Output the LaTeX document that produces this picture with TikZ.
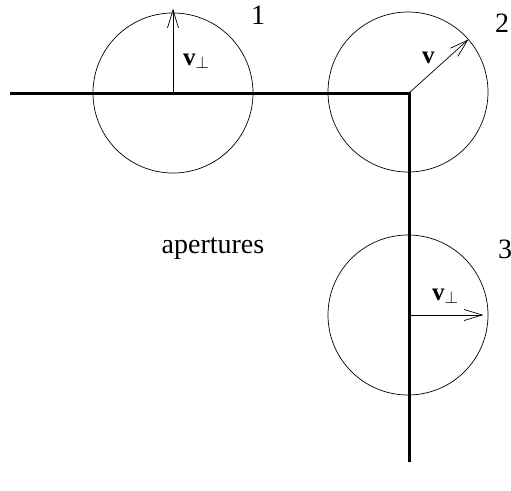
\documentclass[tikz,border=0pt]{standalone}
\usepackage{fontspec}
\setmainfont{Liberation Serif}
\usetikzlibrary{arrows.meta}
\begin{document}
\begin{tikzpicture}[x=1pt, y=-1pt,
		aperture/.style={draw, circle, line width=0.7pt, minimum size=160pt, inner sep=0pt},
		wall/.style={line width=3pt},
		vel/.style={line width=0.7pt, -{Straight Barb[length=18pt, width=11pt]}},
		lbl/.style={font=\fontsize{28}{32}\selectfont, inner sep=0pt, anchor=base},
		vlbl/.style={font=\fontsize{25}{30}\selectfont, inner sep=0pt, anchor=base west}]
	\useasboundingbox (0,0) rectangle (511,490);
	\coordinate (wallL) at (10,93);
	\coordinate (corner) at (409,93);
	\coordinate (wallB) at (409,462);
	\node[aperture] (c1) at (173,93) {};
	\node[aperture] (c2) at (408,92) {};
	\node[aperture] (c3) at (408,315) {};
	\draw[wall] (wallL) -- (corner) -- (wallB);
	\draw[vel] (c1.center) -- ([yshift=4pt]c1.north);
	\draw[vel] (corner) -- ([shift={(-2pt,2pt)}]c2.39);
	\draw[vel] (c3.center) -- ([xshift=-5pt]c3.east);
	\node[lbl] (n1) at (258,24) {1};
	\node[lbl] (n2) at (502,32) {2};
	\node[lbl] (n3) at (505,258) {3};
	\node[vlbl] (v1) at (183,65) {\textbf{v}$_{\perp}$};
	\node[vlbl] (v2) at (422,63) {\textbf{v}};
	\node[vlbl] (v3) at (432,300) {\textbf{v}$_{\perp}$};
	\node[lbl] (ap) at (213,253) {apertures};
\end{tikzpicture}
\end{document}
